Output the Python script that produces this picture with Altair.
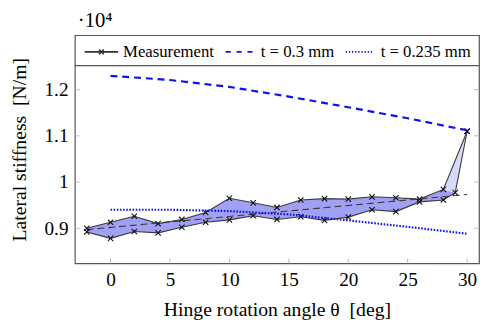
import altair as alt
import pandas as pd

# ---- data (values in units of 10^4 N/m) ----
x_upper = [-2, 0, 2, 4, 6, 8, 10, 12, 14, 16, 18, 20, 22, 24, 26, 28, 30]
upper = [0.900, 0.913, 0.926, 0.910, 0.919, 0.934, 0.965, 0.955, 0.945, 0.961, 0.964,
         0.963, 0.968, 0.966, 0.963, 0.984, 1.110]
x_lower = [-2, 0, 2, 4, 6, 8, 10, 12, 14, 16, 18, 20, 22, 24, 26, 28, 29, 30]
lower = [0.892, 0.878, 0.893, 0.890, 0.902, 0.913, 0.918, 0.927, 0.919, 0.925, 0.917,
         0.924, 0.940, 0.936, 0.957, 0.961, 0.977, 1.110]
x_trend = [-2, 30]
trend = [0.897, 0.973]
x_model = [0, 5, 10, 15, 20, 25, 30]
t03 = [1.230, 1.221, 1.206, 1.185, 1.162, 1.138, 1.112]
t0235 = [0.940, 0.940, 0.937, 0.930, 0.917, 0.903, 0.888]
x_ticks = [0, 5, 10, 15, 20, 25, 30]
y_ticks = [0.9, 1.0, 1.1, 1.2]
legend_names = ["Measurement", "t = 0.3 mm", "t = 0.235 mm"]

W, H = 411, 232
FONT = "Liberation Serif"
NB = "\u00a0"

xs = alt.Scale(domain=[-3, 31], nice=False, zero=False)
ys = alt.Scale(domain=[0.824, 1.318], nice=False, zero=False)
x_axis = alt.Axis(values=x_ticks, title=f"Hinge rotation angle θ{NB}{NB}[deg]")
y_axis = alt.Axis(values=y_ticks, format="~g", title=f"Lateral stiffness{NB}{NB}[N/m]")


def X(f):
    return alt.X(f"{f}:Q", scale=xs, axis=x_axis)


def Y(f):
    return alt.Y(f"{f}:Q", scale=ys, axis=y_axis)


# fill polygons between the two measurement series
up_at = dict(zip(x_upper, upper))
lo_at = dict(zip(x_lower, lower))
solid_x = [x for x in x_lower if x <= 29]
solid_lo = [lo_at[x] for x in solid_x]
solid_hi = [up_at[x] if x in up_at else lo_at[x] for x in solid_x]
df_solid = pd.DataFrame({"x": solid_x, "lo": solid_lo, "hi": solid_hi})

x_a, x_b = 28, 30
up_mid = up_at[x_a] + (up_at[x_b] - up_at[x_a]) * (29 - x_a) / (x_b - x_a)
df_hatch = pd.DataFrame({"x": [28, 29, 30],
                         "lo": [up_at[28], lo_at[29], lo_at[30]],
                         "hi": [up_at[28], up_mid, up_at[30]]})

df_up = pd.DataFrame({"x": x_upper, "y": upper})
df_lo = pd.DataFrame({"x": x_lower, "y": lower})
df_tr = pd.DataFrame({"x": x_trend, "y": trend})
df_m = pd.DataFrame({"x": x_model, "a": t03, "b": t0235})
df_xt = pd.DataFrame({"x": x_ticks})
df_yt = pd.DataFrame({"y": y_ticks})
one = pd.DataFrame({"k": [0]})
df_leg = pd.DataFrame({"name": legend_names})

XPATH = "M-1,-1L1,1M-1,1L1,-1"

solid = alt.Chart(df_solid).mark_area(color="#a0a0f5", opacity=1).encode(
    x=X("x"), y=alt.Y("lo:Q", scale=ys, axis=y_axis), y2="hi:Q")
hatch = alt.Chart(df_hatch).mark_area(color="#d8d8f8", opacity=1).encode(
    x=X("x"), y=alt.Y("lo:Q", scale=ys, axis=y_axis), y2="hi:Q")

trend_line = alt.Chart(df_tr).mark_line(color="#3a3a3a", strokeWidth=1.1,
                                        strokeDash=[7, 4]).encode(x=X("x"), y=Y("y"))


def meas(df):
    ln = alt.Chart(df).mark_line(color="#3a3a3a", strokeWidth=1.1).encode(x=X("x"), y=Y("y"))
    pt = alt.Chart(df).mark_point(shape=XPATH, size=30, filled=False, color="#111111",
                                  strokeWidth=1.1, opacity=1).encode(x=X("x"), y=Y("y"))
    return ln + pt


blue03 = alt.Chart(df_m).mark_line(color="#1010ee", strokeWidth=2.2,
                                   strokeDash=[7, 5]).encode(x=X("x"), y=alt.Y("a:Q", scale=ys, axis=y_axis))
blue0235 = alt.Chart(df_m).mark_line(color="#1010ee", strokeWidth=2.2,
                                     strokeDash=[1.6, 1.6]).encode(x=X("x"), y=alt.Y("b:Q", scale=ys, axis=y_axis))

tick_c = "#bbbbbb"
xt = alt.Chart(df_xt).mark_rule(color=tick_c).encode(x=X("x"), y=alt.value(H), y2=alt.value(H - 5))
ytl = alt.Chart(df_yt).mark_rule(color=tick_c).encode(y=Y("y"), x=alt.value(0), x2=alt.value(5))
ytr = alt.Chart(df_yt).mark_rule(color=tick_c).encode(y=Y("y"), x=alt.value(W - 5), x2=alt.value(W))

sep = alt.Chart(one).mark_rule(color="#555555", strokeWidth=1.2).encode(
    y=alt.value(31), x=alt.value(0), x2=alt.value(W))

expo = alt.Chart(one).mark_text(font=FONT, fontSize=21, align="left", baseline="alphabetic",
                                color="black").encode(
    x=alt.value(3), y=alt.value(-8), text=alt.value("·10⁴"))

# legend via custom symbol paths
p_meas = "M-1,0L1,0M-0.14,-0.14L0.14,0.14M-0.14,0.14L0.14,-0.14"
p_dash = "M-0.8,0L-0.5,0M-0.15,0L0.15,0M0.5,0L0.8,0"
dots = []
n = 9
for i in range(n):
    s = -0.8 + i * (1.6 / (n - 0.5))
    dots.append(f"M{s:.3f},0L{s + 0.08:.3f},0")
p_dot = "".join(dots)

leg = alt.Legend(orient="none", legendX=9, legendY=-1, direction="horizontal", title=None,
                 labelFont=FONT, labelFontSize=17, labelColor="black", symbolSize=1156,
                 symbolStrokeWidth=1.6, labelOffset=4, columnPadding=7, padding=0)
legend_layer = alt.Chart(df_leg).mark_point(filled=False, clip=True, opacity=1).encode(
    x=alt.value(-200), y=alt.value(-200),
    color=alt.Color("name:N", scale=alt.Scale(domain=legend_names,
                                              range=["#333333", "#1010ee", "#1010ee"]), legend=leg),
    shape=alt.Shape("name:N", scale=alt.Scale(domain=legend_names,
                                              range=[p_meas, p_dash, p_dot]), legend=leg),
)

chart = alt.layer(
    solid, hatch, trend_line, meas(df_up), meas(df_lo), blue03, blue0235,
    xt, ytl, ytr, sep, expo, legend_layer
).properties(
    width=W, height=H,
    autosize=alt.AutoSizeParams(type="none"),
    padding={"left": 68, "top": 25, "right": 1, "bottom": 55},
).configure_view(
    stroke="#555555", strokeWidth=1.2
).configure_axis(
    ticks=False, domain=False, grid=False,
    labelFont=FONT, labelFontSize=19.5, labelColor="black",
    titleFont=FONT, titleFontSize=20, titleFontWeight="normal", titleColor="black",
).configure_axisX(
    labelPadding=8, titlePadding=11,
).configure_axisY(
    labelPadding=7, titlePadding=15,
)

chart.save("out.html", embed_options={"renderer": "svg", "actions": False})
